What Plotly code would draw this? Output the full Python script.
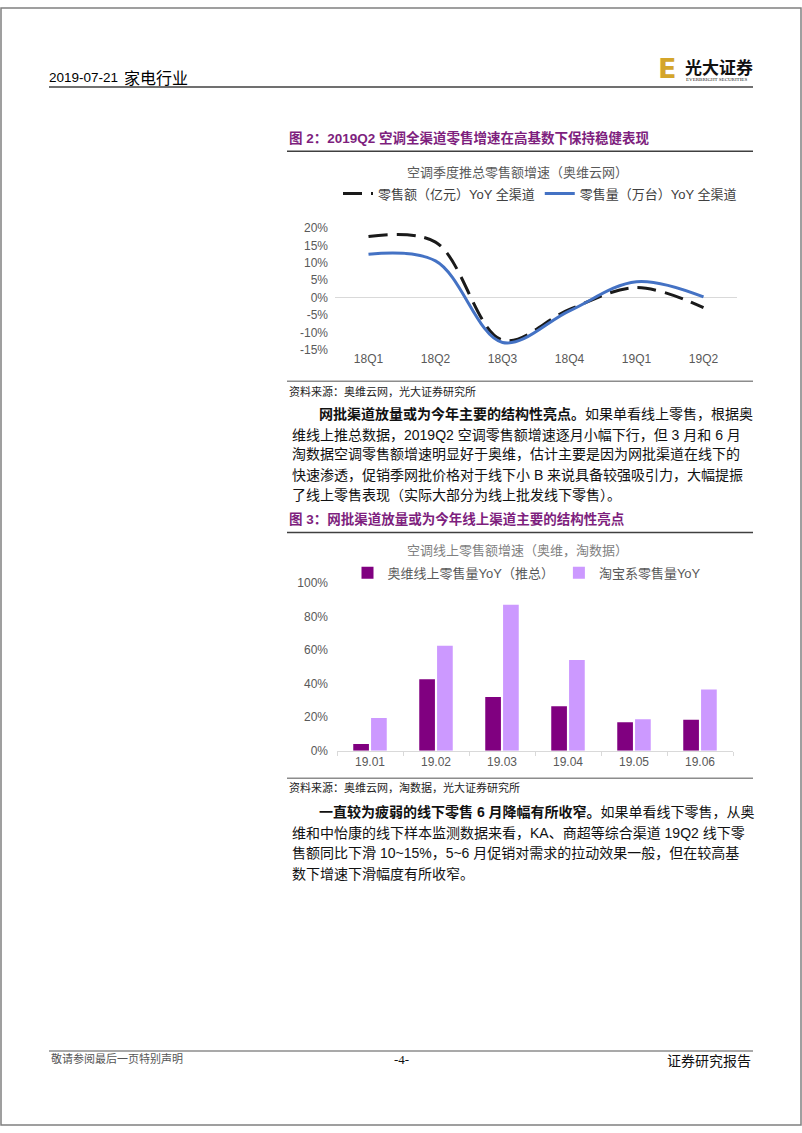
import plotly.graph_objects as go

W, H = 802, 1133

# ---------------- data ----------------
quarters = ["18Q1", "18Q2", "18Q3", "18Q4", "19Q1", "19Q2"]
sales_value_yoy = [17.6, 16.0, -12.2, -3.4, 2.9, -2.9]     # 零售额（亿元）YoY 全渠道
sales_volume_yoy = [12.5, 10.6, -12.9, -3.8, 4.6, 0.2]     # 零售量（万台）YoY 全渠道
line_names = ["零售额（亿元）YoY 全渠道", "零售量（万台）YoY 全渠道"]
y1_ticks = [-15, -10, -5, 0, 5, 10, 15, 20]
y1_ticktext = ["-15%", "-10%", "-5%", "0%", "5%", "10%", "15%", "20%"]

months = ["19.01", "19.02", "19.03", "19.04", "19.05", "19.06"]
avc_online_yoy = [4, 42.5, 32, 26.5, 17, 18.5]        # 奥维线上零售量YoY（推总）
taobao_yoy = [19.5, 62.5, 87, 54, 18.8, 36.5]          # 淘宝系零售量YoY
bar_names = ["奥维线上零售量YoY（推总）", "淘宝系零售量YoY"]
y2_ticks = [0, 20, 40, 60, 80, 100]
y2_ticktext = ["0%", "20%", "40%", "60%", "80%", "100%"]

# ---------------- helpers ----------------
def px(x):
    return x / W

def py(y):
    return 1 - y / H

CJK = "Noto Sans CJK SC"
SANS = "Liberation Sans, " + CJK
GRAY = "#595959"
PURPLE_T = "#7E1F7E"

fig = go.Figure()

fig.add_trace(go.Scatter(
    x=quarters, y=sales_value_yoy, name=line_names[0], mode="lines",
    line=dict(color="#1a1a1a", width=3, dash="19px,9px", shape="spline", smoothing=1.0),
    xaxis="x", yaxis="y", legend="legend"))
fig.add_trace(go.Scatter(
    x=quarters, y=sales_volume_yoy, name=line_names[1], mode="lines",
    line=dict(color="#4472C4", width=3, shape="spline", smoothing=1.0),
    xaxis="x", yaxis="y", legend="legend"))

fig.add_trace(go.Bar(x=months, y=avc_online_yoy, name=bar_names[0],
                     marker=dict(color="#800080", line=dict(width=0)),
                     xaxis="x2", yaxis="y2", legend="legend2"))
fig.add_trace(go.Bar(x=months, y=taobao_yoy, name=bar_names[1],
                     marker=dict(color="#CC99FF", line=dict(width=0)),
                     xaxis="x2", yaxis="y2", legend="legend2"))

tickfont = dict(family=SANS, size=12, color=GRAY)

fig.update_layout(
    width=W, height=H,
    margin=dict(l=0, r=0, t=0, b=0),
    paper_bgcolor="white", plot_bgcolor="white",
    barmode="group", bargap=0.46, bargroupgap=0.12,
    font=dict(family=CJK),
    xaxis=dict(domain=[px(335), px(737)], anchor="y", showgrid=False, showline=False,
               range=[-0.5, len(quarters) - 0.5],
               ticks="", tickfont=tickfont, fixedrange=True),
    yaxis=dict(domain=[py(347), py(224)], anchor="x", range=[-15, 20],
               tickvals=y1_ticks, ticktext=y1_ticktext, showgrid=False,
               zeroline=True, zerolinecolor="#d9d9d9", zerolinewidth=1,
               showline=False, ticks="", tickfont=tickfont, ticklabelstandoff=6),
    xaxis2=dict(domain=[px(337), px(733)], anchor="y2", showgrid=False, showline=True,
                linecolor="#d9d9d9", linewidth=1, ticks="outside", tickson="boundaries",
                ticklen=4, tickcolor="#d9d9d9", tickfont=tickfont),
    yaxis2=dict(domain=[py(753), py(583)], anchor="x2", range=[0, 100],
                tickvals=y2_ticks, ticktext=y2_ticktext, showgrid=False,
                zeroline=False, showline=False, ticks="", tickfont=tickfont,
                ticklabelstandoff=8),
    legend=dict(orientation="h", x=px(540), xanchor="center", y=py(189), yanchor="middle",
                font=dict(family=SANS, size=13, color="#404040"), bgcolor="rgba(0,0,0,0)",
                itemwidth=30, tracegroupgap=0),
    legend2=dict(orientation="h", x=px(527), xanchor="center", y=py(573), yanchor="middle",
                 font=dict(family=SANS, size=13, color=GRAY), bgcolor="rgba(0,0,0,0)",
                 itemwidth=30),
    showlegend=True,
)

shapes = []
def hline(x0, x1, y, color, width):
    shapes.append(dict(type="line", xref="paper", yref="paper", x0=px(x0), x1=px(x1),
                       y0=py(y), y1=py(y), line=dict(color=color, width=width)))

# page border
shapes.append(dict(type="rect", xref="paper", yref="paper", x0=px(1), x1=px(801),
                   y0=py(1132), y1=py(1), line=dict(color="#808080", width=1.5)))
hline(49, 753, 81, "#404040", 1.5)      # header rule
hline(287, 753, 146, "#404040", 1.5)    # fig2 title rule
hline(287, 753, 379, "#8c8c8c", 1.5)    # fig2 bottom rule
hline(287, 753, 532, "#404040", 1.5)    # fig3 title rule
hline(287, 753, 781, "#8c8c8c", 1.5)    # fig3 bottom rule
hline(49, 753, 1057, "#8c8c8c", 1.5)    # footer rule
fig.update_layout(shapes=shapes)

ann = []
def text(x, y, s, size=14, color="#000", family=CJK, anchor="left"):
    ann.append(dict(xref="paper", yref="paper", x=px(x), y=py(y), text=s, showarrow=False,
                    xanchor=anchor, yanchor="middle", align=anchor,
                    font=dict(size=size, color=color, family=family)))

# header
text(47, 71, "2019-07-21", 13.5, "#000", SANS)
text(122, 71, "家电行业", 16, "#000")
text(678, 62, "<b>E</b>", 27, "#D4A52A", "DejaVu Sans", "right")
text(683, 60, "<b>光大证券</b>", 17, "#111", CJK)
text(684, 73, "EVERBRIGHT SECURITIES", 5, "#222", "Liberation Serif")

# figure 2 title & source
text(287, 133, "<b>图 2：2019Q2 空调全渠道零售增速在高基数下保持稳健表现</b>", 13.5, PURPLE_T, SANS)
text(517, 168, "空调季度推总零售额增速（奥维云网）", 13, GRAY, SANS, "center")
text(287, 389, "资料来源：奥维云网，光大证券研究所", 11, "#222")

para1 = [
    "<b>网批渠道放量或为今年主要的结构性亮点。</b>如果单看线上零售，根据奥",
    "维线上推总数据，2019Q2 空调零售额增速逐月小幅下行，但 3 月和 6 月",
    "淘数据空调零售额增速明显好于奥维，估计主要是因为网批渠道在线下的",
    "快速渗透，促销季网批价格对于线下小 B 来说具备较强吸引力，大幅提振",
    "了线上零售表现（实际大部分为线上批发线下零售）。",
]
for i, (line, y) in enumerate(zip(para1, [412, 433, 453, 474, 494])):
    text(317 if i == 0 else 290, y, line, 14, "#111", SANS)

text(287, 518, "<b>图 3：网批渠道放量或为今年线上渠道主要的结构性亮点</b>", 13.5, PURPLE_T, SANS)
text(517, 550, "空调线上零售额增速（奥维，淘数据）", 13, "#7f7f7f", SANS, "center")
text(287, 790, "资料来源：奥维云网，淘数据，光大证券研究所", 11, "#222")

para2 = [
    "<b>一直较为疲弱的线下零售 6 月降幅有所收窄。</b>如果单看线下零售，从奥",
    "维和中怡康的线下样本监测数据来看，KA、商超等综合渠道 19Q2 线下零",
    "售额同比下滑 10~15%，5~6 月促销对需求的拉动效果一般，但在较高基",
    "数下增速下滑幅度有所收窄。",
]
for i, (line, y) in enumerate(zip(para2, [815, 836, 857, 878])):
    text(317 if i == 0 else 290, y, line, 14, "#111", SANS)

# footer
text(49, 1064, "敬请参阅最后一页特别声明", 11, "#555")
text(401, 1066, "-4-", 13, "#111", "Liberation Serif", "center")
text(753, 1066, "证券研究报告", 14, "#111", CJK, "right")

fig.update_layout(annotations=ann)

fig.write_html(
    "out.html",
    config={"displayModeBar": False},
    post_script="document.body.style.margin='0px';document.body.style.padding='0px';"
                "document.body.style.overflow='hidden';",
)
